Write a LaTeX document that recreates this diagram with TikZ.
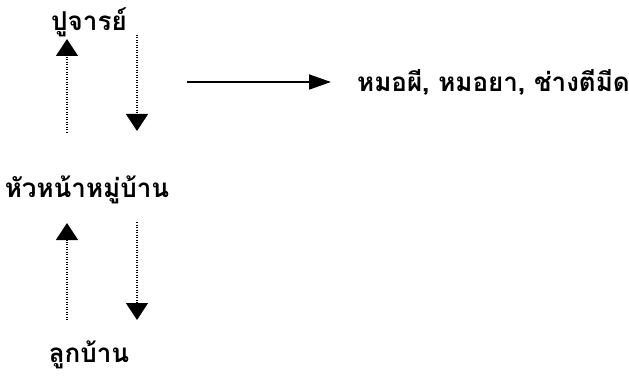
\documentclass[tikz,border=0pt]{standalone}
\usepackage{fontspec}
\newfontfamily\thaifont[Script=Thai]{Loma}
\usetikzlibrary{arrows.meta}

\tikzset{
	thaitext/.style={font=\thaifont\bfseries\fontsize{26}{30}\selectfont, inner sep=0pt},
	dotarrow/.style={dash pattern=on 1pt off 1.5pt, line width=1.2pt, -{Triangle[width=22pt,length=17pt]}},
	solidarrow/.style={line width=1.8pt, -{Triangle[width=15pt,length=22pt]}}
}

\begin{document}
\begin{tikzpicture}[x=1pt, y=-1pt]
	\useasboundingbox (0,0) rectangle (629,385);
	%\draw[help lines] (0,0) grid[step=50] (629,385);
	\node[thaitext] (pu) at (89,22) {ปูจารย์};
	\node[thaitext, anchor=west] (mo) at (357,82) {หมอผี, หมอยา, ช่างตีมีด};
	\node[thaitext] (hua) at (87,190) {หัวหน้าหมู่บ้าน};
	\node[thaitext] (luk) at (89,355) {ลูกบ้าน};
	% ends of the arrows
	\coordinate (a1) at (67,133);
	\coordinate (a2) at (67,39);
	\coordinate (b1) at (137,35);
	\coordinate (b2) at (137,131);
	\coordinate (c1) at (67,320);
	\coordinate (c2) at (67,223);
	\coordinate (d1) at (137,222);
	\coordinate (d2) at (137,320);
	\coordinate (h1) at (187,82);
	\coordinate (h2) at (331,82);
	\draw[dotarrow] (a1) -- (a2);
	\draw[dotarrow] (b1) -- (b2);
	\draw[dotarrow] (c1) -- (c2);
	\draw[dotarrow] (d1) -- (d2);
	\draw[solidarrow] (h1) -- (h2);
\end{tikzpicture}
\end{document}
